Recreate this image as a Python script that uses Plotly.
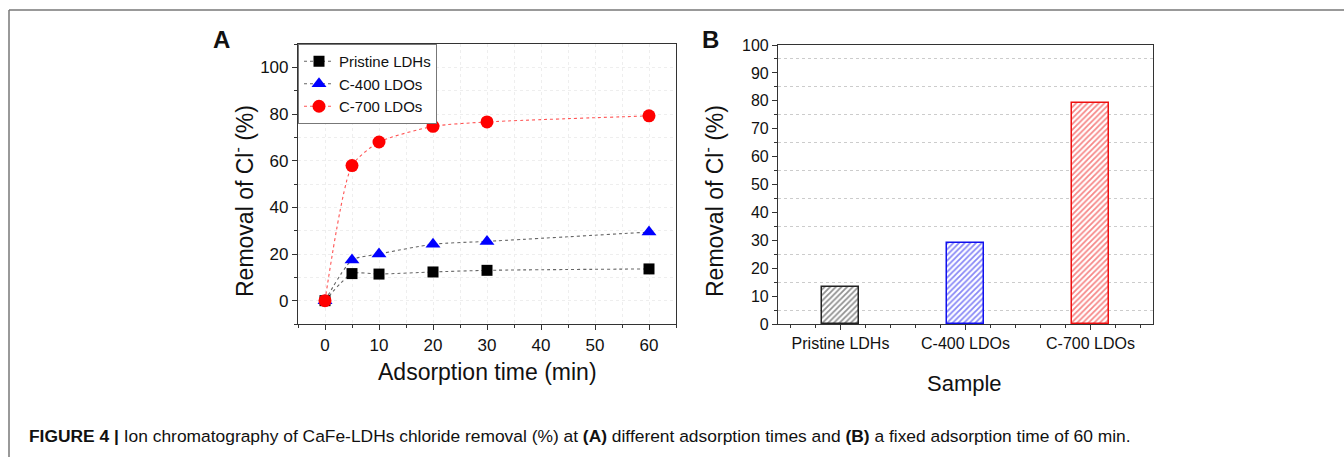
import plotly.graph_objects as go

# panel A data
times = [0, 5, 10, 20, 30, 60]
pristine = [0, 11.6, 11.4, 12.3, 13.0, 13.6]
c400 = [0, 17.4, 20.0, 24.2, 25.4, 29.4]
c700 = [0, 57.9, 68.0, 74.7, 76.6, 79.2]

# panel B data
samples = ["Pristine LDHs", "C-400 LDOs", "C-700 LDOs"]
removal_60 = [13.4, 29.1, 79.3]
bar_colors = ["#222222", "#1010ee", "#ee1010"]

W, H = 1344, 457
font = "Liberation Sans, Arial, sans-serif"

fig = go.Figure()

# A: three dotted series
series = [
    ("Pristine LDHs", pristine, "square", "black", "#666666", 11),
    ("C-400 LDOs", c400, "triangle-up", "#0000ff", "#666666", 13),
    ("C-700 LDOs", c700, "circle", "#ff0000", "#ff5555", 13),
]
for name, vals, sym, mc, lc, ms in series:
    fig.add_trace(go.Scatter(
        x=times, y=vals, name=name, mode="lines+markers",
        line=dict(color=lc, width=1.1, dash="dot", shape="spline", smoothing=0.6),
        marker=dict(symbol=sym, color=mc, size=ms),
        xaxis="x", yaxis="y",
    ))

# B: hatched bars
fig.add_trace(go.Bar(
    x=[0, 1, 2], y=removal_60, width=0.3, showlegend=False,
    marker=dict(
        color="white",
        line=dict(color=bar_colors, width=1.5),
        pattern=dict(shape="/", fgcolor=bar_colors, bgcolor="white", size=4, solidity=0.45),
    ),
    xaxis="x2", yaxis="y2",
))

ax_common = dict(
    showline=True, linecolor="#333333", linewidth=1.2, mirror=True,
    ticks="outside", tickcolor="#333333", zeroline=False, automargin=False,
    tickfont=dict(family=font, size=17, color="#111111"),
)

fig.update_layout(
    width=W, height=H, autosize=False,
    margin=dict(l=0, r=0, t=0, b=0, pad=0),
    paper_bgcolor="white", plot_bgcolor="white",
    font=dict(family=font, color="#111111"),
    xaxis=dict(
        domain=[298 / W, 676 / W], range=[-5, 65], tickvals=[0, 10, 20, 30, 40, 50, 60],
        ticklen=5, showgrid=False, anchor="y",
        minor=dict(tick0=0, dtick=5, ticklen=3, ticks="outside", tickcolor="#333333",
                   showgrid=True, gridcolor="#eeeeee", griddash="dot"),
        **ax_common,
    ),
    yaxis=dict(
        domain=[1 - 324 / H, 1 - 44 / H], range=[-10, 110], tickvals=[0, 20, 40, 60, 80, 100],
        ticklen=5, showgrid=False, anchor="x",
        minor=dict(tick0=0, dtick=10, ticklen=3, ticks="outside", tickcolor="#333333",
                   showgrid=True, gridcolor="#eeeeee", griddash="dot"),
        **ax_common,
    ),
    xaxis2=dict(
        domain=[778 / W, 1153 / W], range=[-0.5, 2.5], tickvals=[0, 1, 2], ticktext=samples,
        ticklen=5, showgrid=False, anchor="y2",
        minor=dict(tick0=0, dtick=0.2, ticklen=3, ticks="outside", tickcolor="#333333"),
        **{**ax_common, "tickfont": dict(family=font, size=16, color="#111111")},
    ),
    yaxis2=dict(
        domain=[1 - 324 / H, 1 - 45 / H], range=[0, 100], dtick=10,
        ticklen=5, showgrid=False, anchor="x2",
        minor=dict(tick0=0, dtick=5, ticklen=3, ticks="outside", tickcolor="#333333",
                   showgrid=True, gridcolor="#cccccc", griddash="dot"),
        **{**ax_common, "tickfont": dict(family=font, size=16, color="#111111")},
    ),
    legend=dict(
        x=298 / W, y=1 - 44 / H, xanchor="left", yanchor="top",
        bordercolor="#777777", borderwidth=1, bgcolor="white",
        font=dict(family=font, size=15, color="#111111"),
        tracegroupgap=0, itemwidth=30,
    ),
    bargap=0,
)

# outer frame of the figure page
fig.add_shape(type="line", xref="paper", yref="paper", x0=9 / W, x1=1, y0=1 - 10 / H, y1=1 - 10 / H,
              line=dict(color="#777777", width=1.5))
fig.add_shape(type="line", xref="paper", yref="paper", x0=9 / W, x1=9 / W, y0=0, y1=1 - 10 / H,
              line=dict(color="#777777", width=1.5))

def ann(text, x, y, size, bold=False, angle=0, xanchor="center"):
    fig.add_annotation(
        text=f"<b>{text}</b>" if bold else text,
        x=x / W, y=1 - y / H, xref="paper", yref="paper", showarrow=False,
        xanchor=xanchor, yanchor="middle",
        textangle=angle, font=dict(family=font, size=size, color="#111111"),
    )

ann("A", 221, 39, 24, bold=True)
ann("B", 711, 39, 24, bold=True)
ylab = "Removal of Cl<sup>-</sup> (%)"
ann(ylab, 243, 201, 23, angle=-90)
ann(ylab, 713, 201, 23, angle=-90)
ann("Adsorption time (min)", 487, 372, 23)
ann("Sample", 965, 383, 22)
ann("<b>FIGURE 4 |</b> Ion chromatography of CaFe-LDHs chloride removal (%) at <b>(A)</b> different "
    "adsorption times and <b>(B)</b> a fixed adsorption time of 60 min.",
    27, 436, 17.4, xanchor="left")

fig.write_html("out.html", config={"displayModeBar": False})

# drop the default page margin so the figure sits at the window's corner
with open("out.html", encoding="utf-8") as f:
    page = f.read()
page = page.replace("<head>", "<head><style>html,body{margin:0;padding:0;overflow:hidden;}</style>", 1)
with open("out.html", "w", encoding="utf-8") as f:
    f.write(page)
